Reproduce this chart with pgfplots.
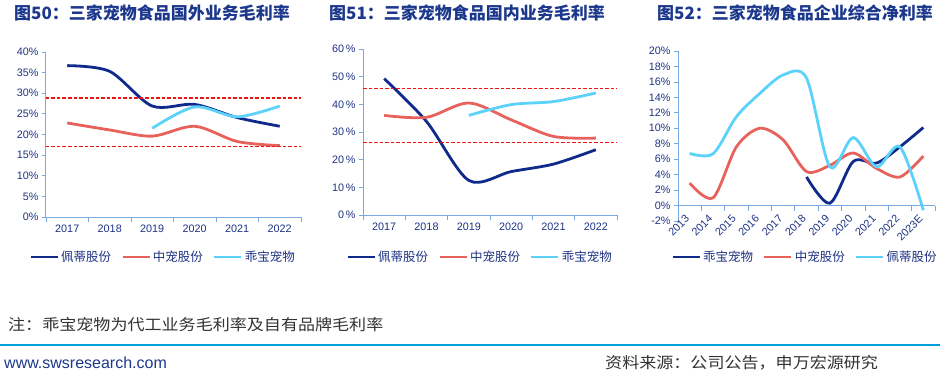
\documentclass[border=0pt]{standalone}
\usepackage{pgfplots}
\pgfplotsset{compat=1.18}
\usepackage{fontspec}
\setmainfont{Liberation Sans}
\newfontfamily\cjk{Noto Sans CJK SC}
\newfontfamily\cjkw[FakeStretch=1.1]{Noto Sans CJK SC}
\definecolor{navy}{RGB}{16,42,140}
\definecolor{cred}{RGB}{232,98,92}
\definecolor{lblue}{RGB}{92,210,250}
\definecolor{titlec}{RGB}{28,56,140}
\definecolor{tickc}{RGB}{30,50,130}
\definecolor{axc}{RGB}{120,170,225}
\definecolor{dred}{RGB}{240,20,20}
\definecolor{lineblue}{RGB}{0,158,220}
\definecolor{txtgray}{RGB}{50,50,50}
\pgfplotsset{
  common/.style={
    scale only axis,
    anchor=south west,
    axis lines*=left,
    axis line style={axc, line width=1pt},
    tick style={axc, line width=0.8pt},
    tick align=outside,
    major tick length=4pt,
    minor tick length=5pt,
    ticklabel style={font=\fontsize{10.8}{12}\selectfont, text=tickc},
    /pgf/number format/assume math mode=true,
    major x tick style={draw=none},
    clip=false,
    legend columns=3,
    legend style={draw=none, fill=none, inner sep=0pt, anchor=west,
      font=\cjk\fontsize{12.5}{14}\selectfont, text=tickc,
      nodes={inner xsep=2pt, inner ysep=1pt},
      /tikz/every even column/.append style={column sep=8pt}},
    legend image code/.code={\draw[##1] (0pt,0pt) -- (27pt,0pt);},
  },
  ser/.style={line width=2.8pt, smooth, tension=0.5, no marks},
  dl/.style={dred, line width=1.5pt, dash pattern=on 3.5pt off 2pt, forget plot, no marks},
}
\begin{document}
\begin{tikzpicture}
\path[use as bounding box] (0pt,0pt) rectangle (940pt,376pt);
% titles
\node[anchor=west, inner sep=0pt, text=titlec, font=\cjk\bfseries\fontsize{17}{19}\selectfont] at (14pt,363pt) {图50：三家宠物食品国外业务毛利率};
\node[anchor=west, inner sep=0pt, text=titlec, font=\cjk\bfseries\fontsize{17}{19}\selectfont] at (329pt,363pt) {图51：三家宠物食品国内业务毛利率};
\node[anchor=west, inner sep=0pt, text=titlec, font=\cjk\bfseries\fontsize{17}{19}\selectfont] at (657pt,363pt) {图52：三家宠物食品企业综合净利率};

% chart 1
\begin{axis}[common, at={(46pt,159pt)}, width=255pt, height=165pt,
  xmin=-0.5, xmax=5.5, ymin=0, ymax=40,
  xtick={0,...,5},
  xticklabels={2017,2018,2019,2020,2021,2022},
  minor xtick={-0.5,0.5,...,5.5},
  ytick={0,5,...,40},
  yticklabel={\pgfmathprintnumber{\tick}\%},
  legend style={at={(axis description cs:-0.066,-0.242)}}]
\addplot[ser, navy] coordinates {(0,36.7) (1,35.3) (2,26.9) (3,27.3) (4,24.1) (5,22.0)};
\addlegendentry{佩蒂股份}
\addplot[ser, cred] coordinates {(0,22.8) (1,21.1) (2,19.6) (3,22.0) (4,18.3) (5,17.3)};
\addlegendentry{中宠股份}
\addplot[ser, lblue] coordinates {(2,21.5) (3,26.7) (4,24.3) (5,26.9)};
\addlegendentry{乖宝宠物}
\addplot[dl] coordinates {(-0.5,28.9) (5.5,28.9)};
\addplot[dl] coordinates {(-0.5,17.1) (5.5,17.1)};
\end{axis}

% chart 2
\begin{axis}[common, at={(363pt,161pt)}, width=254pt, height=166pt,
  xmin=-0.5, xmax=5.5, ymin=0, ymax=60,
  xtick={0,...,5},
  xticklabels={2017,2018,2019,2020,2021,2022},
  minor xtick={-0.5,0.5,...,5.5},
  ytick={0,10,...,60},
  yticklabel={\pgfmathprintnumber{\tick}\,\%},
  legend style={at={(axis description cs:-0.066,-0.253)}}]
\addplot[ser, navy] coordinates {(0,49.3) (1,33.8) (2,12.5) (3,15.7) (4,18.4) (5,23.6)};
\addlegendentry{佩蒂股份}
\addplot[ser, cred] coordinates {(0,36.0) (1,35.3) (2,40.5) (3,34.4) (4,28.4) (5,27.8)};
\addlegendentry{中宠股份}
\addplot[ser, lblue] coordinates {(2,36.0) (3,39.9) (4,41.0) (5,44.1)};
\addlegendentry{乖宝宠物}
\addplot[dl] coordinates {(-0.5,45.7) (5.5,45.7)};
\addplot[dl] coordinates {(-0.5,26.2) (5.5,26.2)};
\end{axis}

% chart 3
\begin{axis}[common, at={(678pt,155pt)}, width=257pt, height=170pt,
  axis x line*=middle, axis y line*=left,
  xmin=-0.5, xmax=10.5, ymin=-2, ymax=20,
  xtick={0,...,10},
  xticklabels={2013,2014,2015,2016,2017,2018,2019,2020,2021,2022,2023E},
  xticklabel style={rotate=45, anchor=east},
  xticklabel shift=5pt,
  minor xtick={-0.5,0.5,...,10.5},
  ytick={-2,0,...,20},
  yticklabel={\pgfmathprintnumber{\tick}\%},
  legend style={at={(axis description cs:-0.027,-0.212)}}]
\addplot[ser, navy] coordinates {(5,3.7) (6,0.3) (7,5.7) (8,5.5) (9,7.6) (10,10.1)};
\addlegendentry{乖宝宠物}
\addplot[ser, cred] coordinates {(0,2.9) (1,1.0) (2,7.6) (3,10.0) (4,8.5) (5,4.4) (6,5.2) (7,6.8) (8,4.8) (9,3.7) (10,6.4)};
\addlegendentry{中宠股份}
\addplot[ser, lblue] coordinates {(0,6.75) (1,6.7) (2,11.5) (3,14.5) (4,16.9) (5,16.5) (6,5.0) (7,8.8) (8,5.0) (9,7.6) (10,-0.6)};
\addlegendentry{佩蒂股份}
\end{axis}

% footer
\node[anchor=west, inner sep=0pt, text=txtgray, font=\cjkw\fontsize{15.5}{17}\selectfont] at (8pt,51pt) {注：乖宝宠物为代工业务毛利率及自有品牌毛利率};
\draw[lineblue, line width=2.2pt] (0pt,31pt) -- (940pt,31pt);
\node[anchor=west, inner sep=0pt, text=titlec, font=\fontsize{16}{18}\selectfont] at (4pt,13pt) {www.swsresearch.com};
\node[anchor=west, inner sep=0pt, text=txtgray, font=\cjkw\fontsize{15.5}{17}\selectfont] at (605pt,13pt) {资料来源：公司公告，申万宏源研究};
\end{tikzpicture}
\end{document}
